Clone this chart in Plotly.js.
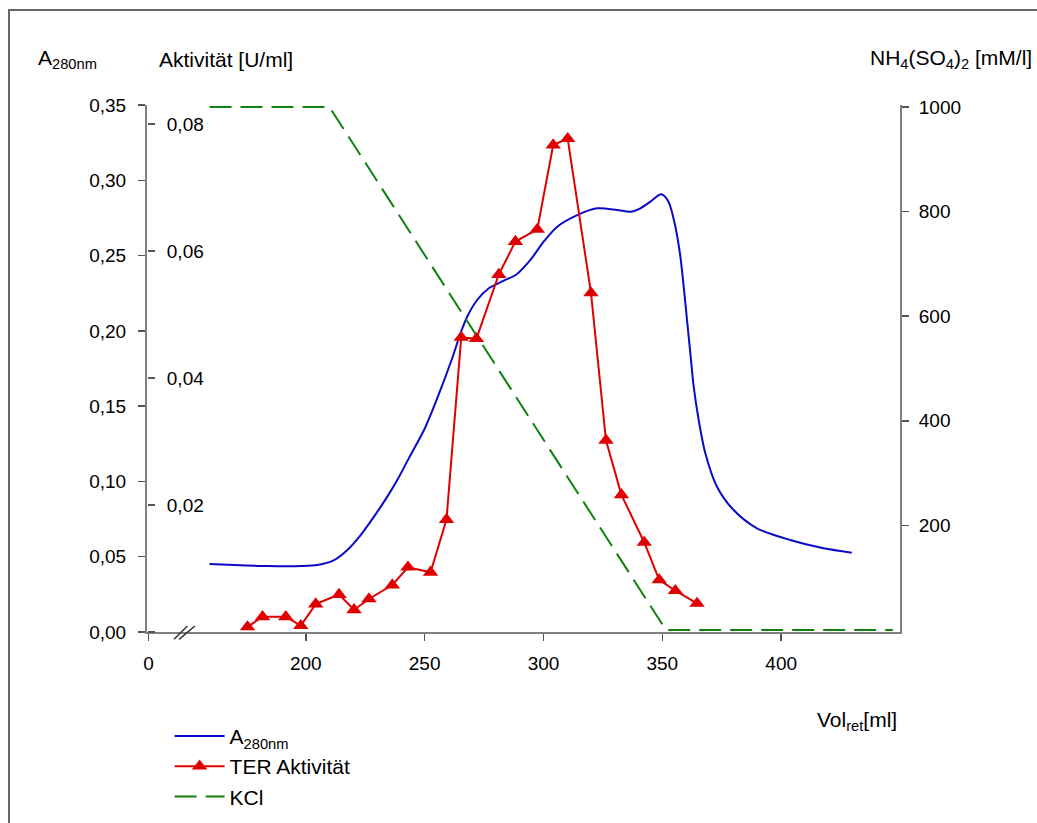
<!DOCTYPE html>
<html>
<head>
<meta charset="utf-8">
<script src="https://cdn.plot.ly/plotly-3.0.1.min.js"></script>
<style>html,body{margin:0;padding:0;background:#fff;}</style>
</head>
<body>
<div id="chart" style="width:1037px;height:823px;"></div>
<script>
// A280nm absorbance (left axis)
const volA280 = [159.5,169.9,183.9,197.9,204.9,211.9,217.5,223.1,228.7,234.3,238.5,243.5,250.0,255.9,261.6,265.1,267.9,272.1,277.0,283.3,288.9,294.5,300.1,305.8,314.2,322.6,331.0,336.6,340.8,345.0,349.5,352.6,355.5,357.6,359.0,360.4,361.8,363.2,365.3,368.1,373.0,380.0,389.8,403.8,417.8,429.7];
const absA280 = [0.0452,0.0445,0.0438,0.0438,0.0445,0.0478,0.0545,0.0644,0.0766,0.0899,0.1009,0.1158,0.1350,0.1576,0.1818,0.1984,0.2094,0.2205,0.2283,0.2333,0.2378,0.2471,0.2592,0.2692,0.2769,0.2814,0.2803,0.2791,0.2814,0.2858,0.2907,0.2858,0.2692,0.2493,0.2293,0.2072,0.1851,0.1629,0.1408,0.1187,0.0965,0.0810,0.0689,0.0611,0.0556,0.0527];

// TER activity (U/ml)
const volTER = [175.5,181.8,191.6,197.9,204.2,214.0,220.3,226.6,236.4,243.0,252.5,259.2,265.4,271.8,281.2,288.2,297.4,304.1,310.2,320.0,326.3,332.8,342.4,348.7,355.5,364.6];
const actTER = [0.0008,0.0024,0.0024,0.0010,0.0044,0.0059,0.0035,0.0052,0.0074,0.0102,0.0094,0.0177,0.0464,0.0462,0.0563,0.0615,0.0634,0.0767,0.0777,0.0534,0.0302,0.0216,0.0141,0.0082,0.0065,0.0045];

// Salt gradient (mM/l)
const volKCl = [159.5,210.0,351.5,447.0];
const concKCl = [1000,1000,0,0];

// Tick labels (axis is broken between 0 and ~140 ml)
const xTickVals = [133.8,200,250,300,350,400];
const xTickText = ['0','200','250','300','350','400'];
const aTickVals = [0,0.05,0.10,0.15,0.20,0.25,0.30,0.35];
const actTickVals = [0,0.02,0.04,0.06,0.08];
const actTickText = ['','0,02','0,04','0,06','0,08'];
const saltTickVals = [200,400,600,800,1000];

const FONT = 'Liberation Sans, Arial, sans-serif';
const AX = '#808080';
const TK = '#555555';
const TF = {family: FONT, size: 19, color: '#000'};
const BF = {family: FONT, size: 21, color: '#000'};

const traces = [
  {x: volA280, y: absA280, name: 'A<sub>280nm</sub>', type: 'scatter', mode: 'lines',
   line: {color: '#0a0ac8', width: 2, shape: 'spline', smoothing: 0.8}, xaxis: 'x', yaxis: 'y'},
  {x: volTER, y: actTER, name: 'TER Aktivität', type: 'scatter', mode: 'lines+markers',
   line: {color: '#e00000', width: 2}, marker: {symbol: 'triangle-up', size: 13.5, color: '#e00000'},
   xaxis: 'x', yaxis: 'y3', cliponaxis: false},
  {x: volKCl, y: concKCl, name: 'KCl', type: 'scatter', mode: 'lines',
   line: {color: '#108010', width: 2, dash: '22px,9px'}, xaxis: 'x', yaxis: 'y2'}
];

const layout = {
  width: 1037, height: 823,
  margin: {l: 147, r: 137, t: 105, b: 191, autoexpand: false},
  paper_bgcolor: '#ffffff', plot_bgcolor: '#ffffff',
  separators: ',.',
  font: TF,
  showlegend: true,
  legend: {x: 0.03, y: -0.159, xanchor: 'left', yanchor: 'top', bgcolor: 'rgba(0,0,0,0)',
           font: BF, itemwidth: 50, traceorder: 'normal'},
  xaxis: {range: [133.2, 450], tickvals: xTickVals, ticktext: xTickText, ticks: 'outside', ticklen: 7,
          tickcolor: TK, tickwidth: 1.5, showline: true, linecolor: AX, linewidth: 2, tickfont: TF,
          showgrid: false, zeroline: false, ticklabelstandoff: 6},
  yaxis: {range: [0, 0.35], tickvals: aTickVals, tickformat: '.2f', ticks: 'outside', ticklen: 7,
          tickcolor: TK, tickwidth: 1.5, showline: true, linecolor: AX, linewidth: 2, tickfont: TF,
          showgrid: false, zeroline: false, ticklabelstandoff: 8},
  yaxis2: {overlaying: 'y', side: 'right', anchor: 'x', range: [-4, 1004], tickvals: saltTickVals,
           ticks: 'outside', ticklen: 7, tickcolor: TK, tickwidth: 1.5, showline: true, linecolor: AX,
           linewidth: 2, tickfont: TF, showgrid: false, zeroline: false, ticklabelstandoff: 6},
  yaxis3: {overlaying: 'y', side: 'right', anchor: 'free', position: 0, range: [0, 0.083],
           tickvals: actTickVals, ticktext: actTickText, ticks: 'outside', ticklen: 7, tickcolor: TK,
           tickwidth: 1.5, tickfont: TF, ticklabelstandoff: 8, showline: false, showgrid: false, zeroline: false},
  annotations: [
    {text: 'A<sub>280nm</sub>', xref: 'paper', yref: 'paper', x: -0.1475, y: 1.088, xanchor: 'left', yanchor: 'middle', showarrow: false, font: BF},
    {text: 'Aktivität [U/ml]', xref: 'paper', yref: 'paper', x: 0.0133, y: 1.0854, xanchor: 'left', yanchor: 'middle', showarrow: false, font: BF},
    {text: 'NH<sub>4</sub>(SO<sub>4</sub>)<sub>2</sub> [mM/l]', xref: 'paper', yref: 'paper', x: 0.9575, y: 1.088, xanchor: 'left', yanchor: 'middle', showarrow: false, font: BF},
    {text: 'Vol<sub>ret</sub>[ml]', xref: 'paper', yref: 'paper', x: 0.8871, y: -0.168, xanchor: 'left', yanchor: 'middle', showarrow: false, font: BF}
  ],
  shapes: [
    {type: 'rect', xref: 'paper', yref: 'paper', x0: -0.1833, x1: 1.25, y0: -0.45, y1: 1.1803, line: {color: '#666', width: 2}},
    {type: 'line', xref: 'paper', yref: 'paper', x0: 0.0359, y0: -0.0139, x1: 0.0536, y1: 0.0114, line: {color: '#333', width: 1.5}},
    {type: 'line', xref: 'paper', yref: 'paper', x0: 0.0427, y0: -0.0139, x1: 0.0635, y1: 0.0114, line: {color: '#333', width: 1.5}}
  ]
};

Plotly.newPlot('chart', traces, layout, {displayModeBar: false, staticPlot: true});
</script>
</body>
</html>
